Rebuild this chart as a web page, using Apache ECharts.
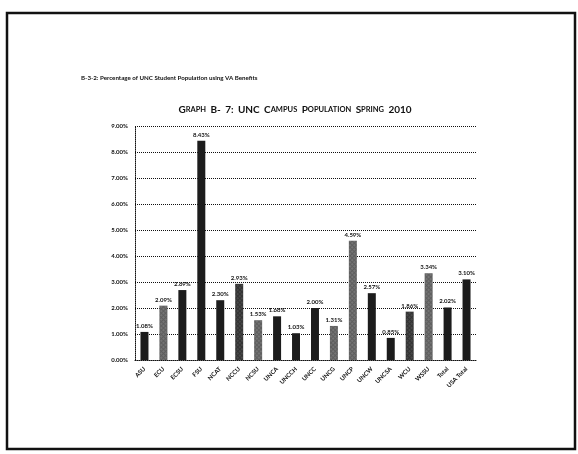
<!DOCTYPE html>
<html>
<head>
<meta charset="utf-8">
<script src="https://cdn.jsdelivr.net/npm/echarts@6/dist/echarts.min.js"></script>
<style>
  html, body { margin: 0; padding: 0; background: #fff; }
  #chart { width: 578px; height: 454px; }
</style>
</head>
<body>
<div id="chart"></div>
<script>
// Campuses along the x axis
const campuses = ['ASU', 'ECU', 'ECSU', 'FSU', 'NCAT', 'NCCU', 'NCSU', 'UNCA', 'UNCCH',
  'UNCC', 'UNCG', 'UNCP', 'UNCW', 'UNCSA', 'WCU', 'WSSU', 'Total', 'USA Total'];
// Share of student population using VA benefits (%)
const vaShare = [1.08, 2.09, 2.69, 8.43, 2.30, 2.93, 1.53, 1.68, 1.03,
  2.00, 1.31, 4.59, 2.57, 0.85, 1.86, 3.34, 2.02, 3.10];
// Value axis ticks (%)
const yTicks = [0, 1, 2, 3, 4, 5, 6, 7, 8, 9];

// Bar shading: solid dark or stippled grey
const shade = ['d', 'h', 'd', 'd', 'd', 'm', 'h', 'd', 'd',
  'd', 'h', 'h', 'd', 'd', 'm', 'h', 'd', 'd'];
const shadeStyle = {
  d: { color: '#1c1c1c' },
  m: { color: '#333', decal: { symbol: 'rect', symbolSize: 0.6, dashArrayX: [2, 1], dashArrayY: [2, 1], rotation: 0.785, color: 'rgba(255,255,255,0.35)' } },
  h: { color: '#5e5e5e', decal: { symbol: 'rect', symbolSize: 0.6, dashArrayX: [2, 1], dashArrayY: [2, 1], rotation: 0.785, color: 'rgba(255,255,255,0.45)' } }
};

const font = 'Lato, "Open Sans", sans-serif';

// Small-caps title: initial capitals larger than the rest of each word
function smallCaps(str) {
  return str.split(/(\s+)/).map(w => {
    if (/^\s+$/.test(w)) return w;
    const m = w.match(/^([A-Z0-9:-]*?)([a-z].*)?$/);
    if (m && m[2]) return '{big|' + m[1] + '}{small|' + m[2].toUpperCase() + '}';
    return '{big|' + w + '}';
  }).join('');
}

const chart = echarts.init(document.getElementById('chart'), null, { renderer: 'canvas' });

chart.setOption({
  backgroundColor: '#fff',
  animation: false,
  graphic: [
    { type: 'rect', shape: { x: 7, y: 13, width: 568, height: 436 },
      style: { fill: 'none', stroke: '#111', lineWidth: 2.5 } },
    { type: 'text', left: 81, top: 75,
      style: { text: 'B-3-2: Percentage of UNC Student Population using VA Benefits',
        font: 'bold 6.2px ' + font, fill: '#111' } }
  ],
  title: {
    text: smallCaps('Graph B- 7: UNC Campus Population Spring 2010'),
    left: 290, textAlign: 'center', top: 96,
    textStyle: {
      fontFamily: font, color: '#111',
      rich: {
        big: { fontFamily: font, fontSize: 10, fontWeight: 'bold', color: '#111' },
        small: { fontFamily: font, fontSize: 7.5, fontWeight: 'bold', color: '#111' }
      }
    }
  },
  grid: { left: 135, right: 102, top: 126, bottom: 94 },
  xAxis: {
    type: 'category',
    data: campuses,
    axisLine: { lineStyle: { color: '#111', type: 'dotted', width: 1 } },
    axisTick: { show: false },
    axisLabel: { rotate: 45, interval: 0, fontFamily: font, fontSize: 6, fontWeight: 'bold', color: '#111', margin: 8 }
  },
  yAxis: {
    type: 'value',
    min: yTicks[0], max: yTicks[yTicks.length - 1], interval: 1,
    axisLine: { show: true, lineStyle: { color: '#111', type: 'dotted', width: 1 } },
    axisTick: { show: false },
    splitLine: { lineStyle: { color: '#111', type: 'dotted', width: 1 } },
    axisLabel: { formatter: v => v.toFixed(2) + '%', fontFamily: font, fontSize: 6, fontWeight: 'bold', color: '#111', margin: 7 }
  },
  series: [{
    type: 'bar',
    barWidth: 8,
    data: vaShare.map((v, i) => ({ value: v, itemStyle: shadeStyle[shade[i]] })),
    label: {
      show: true, position: 'top', distance: 3,
      formatter: p => p.value.toFixed(2) + '%',
      fontFamily: font, fontSize: 6, fontWeight: 'bold', color: '#111'
    }
  }]
});
</script>
</body>
</html>
